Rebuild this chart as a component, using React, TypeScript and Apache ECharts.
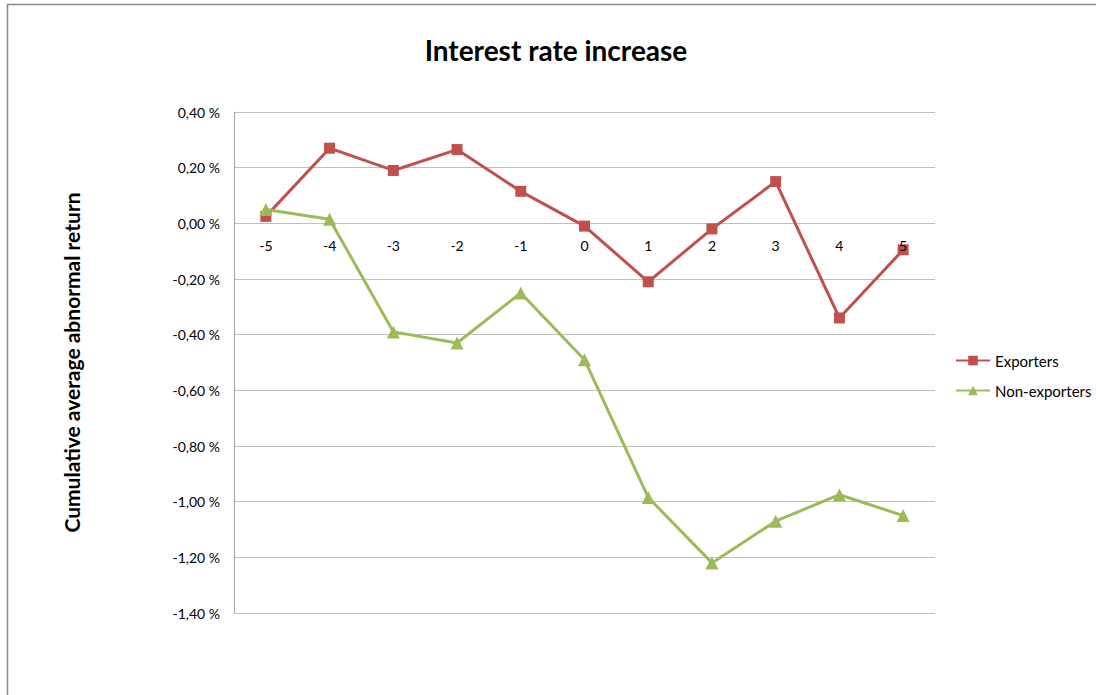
import React, { useEffect, useRef } from "react";
import * as echarts from "echarts";

const categories = ["-5", "-4", "-3", "-2", "-1", "0", "1", "2", "3", "4", "5"];
const exporters = [0.025, 0.27, 0.19, 0.265, 0.115, -0.01, -0.21, -0.02, 0.15, -0.34, -0.095];
const nonExporters = [0.05, 0.015, -0.39, -0.43, -0.25, -0.49, -0.985, -1.22, -1.07, -0.975, -1.05];
const yMin = -1.4;
const yMax = 0.4;
const yInterval = 0.2;

const FONT = "Lato, 'Open Sans', sans-serif";
const GRID_H = 501;
const zeroOffset = -(GRID_H * (0 - yMin)) / (yMax - yMin);

export default function App() {
  const ref = useRef<HTMLDivElement>(null);
  useEffect(() => {
    if (!ref.current) return;
    const chart = echarts.init(ref.current, null, { renderer: "svg" });
    chart.setOption({
      animation: false,
      backgroundColor: "#ffffff",
      textStyle: { fontFamily: FONT },
      title: {
        text: "Interest rate increase",
        left: 551,
        textAlign: "center",
        top: 31,
        textStyle: { fontFamily: FONT, fontSize: 28, fontWeight: "bold", color: "#000" },
      },
      graphic: [
        {
          type: "rect",
          shape: { x: 7.5, y: 4.5, width: 1200, height: 800 },
          style: { fill: "none", stroke: "#8a8a8a", lineWidth: 1.5 },
          silent: true,
        },
      ],
      legend: {
        orient: "vertical",
        left: 950,
        top: 348,
        itemGap: 15,
        itemWidth: 34,
        itemHeight: 12,
        textStyle: { fontFamily: FONT, fontSize: 15, color: "#000" },
        data: ["Exporters", "Non-exporters"],
      },
      grid: { left: 234, top: 112, width: 701, height: GRID_H, containLabel: false },
      xAxis: {
        type: "category",
        data: categories,
        boundaryGap: true,
        position: "bottom",
        offset: zeroOffset,
        z: 10,
        axisLine: { onZero: false, show: false },
        axisTick: { show: false },
        axisLabel: { margin: 15, fontSize: 14, color: "#000", fontFamily: FONT },
        splitLine: { show: false },
      },
      yAxis: {
        type: "value",
        min: yMin,
        max: yMax,
        interval: yInterval,
        name: "Cumulative average abnormal return",
        nameLocation: "middle",
        nameGap: 152,
        nameRotate: 90,
        nameTextStyle: { fontFamily: FONT, fontSize: 21, fontWeight: "bold", color: "#000" },
        axisLine: { show: true, lineStyle: { color: "#a6a6a6", width: 1 } },
        axisTick: { show: false },
        axisLabel: {
          margin: 14,
          fontSize: 14,
          color: "#000",
          fontFamily: FONT,
          formatter: (v: number) => v.toFixed(2).replace(".", ",") + " %",
        },
        splitLine: { show: true, lineStyle: { color: "#bfbfbf", width: 1 } },
      },
      series: [
        {
          name: "Exporters",
          type: "line",
          data: exporters,
          symbol: "rect",
          symbolSize: 11,
          itemStyle: { color: "#c0504d" },
          lineStyle: { color: "#c0504d", width: 3 },
          z: 3,
        },
        {
          name: "Non-exporters",
          type: "line",
          data: nonExporters,
          symbol: "triangle",
          symbolSize: 13,
          itemStyle: { color: "#9bbb59" },
          lineStyle: { color: "#9bbb59", width: 3 },
          z: 4,
        },
      ],
    });
    return () => chart.dispose();
  }, []);
  return (
    <div
      ref={ref}
      style={{ position: "fixed", left: 0, top: 0, width: 1096, height: 695 }}
    />
  );
}
